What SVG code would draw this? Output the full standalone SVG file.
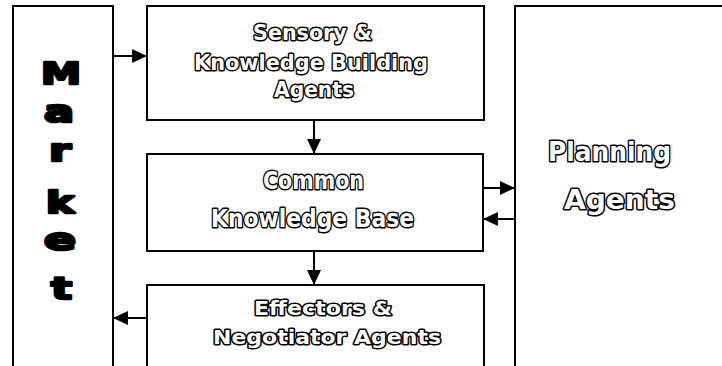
<svg xmlns="http://www.w3.org/2000/svg" width="722" height="366" viewBox="0 0 722 366">
<style>
.box{fill:#fff;stroke:#000;stroke-width:2}
.ol{font-family:"DejaVu Sans",sans-serif;font-weight:bold;fill:#fff;stroke:#000;stroke-width:3;stroke-linejoin:round;paint-order:stroke}
.mk{font-family:"DejaVu Sans",sans-serif;font-weight:900;fill:#000;stroke:#000;stroke-width:2.6;stroke-linejoin:round;font-size:31px}
.cn{stroke:#000;stroke-width:2;fill:none}
</style>
<defs>
<marker id="ah" markerUnits="userSpaceOnUse" markerWidth="16" markerHeight="14" viewBox="0 0 16 14" refX="15" refY="7" orient="auto">
<path d="M0,0 L15,7 L0,14 Z" fill="#000"/>
</marker>
</defs>
<rect width="722" height="366" fill="#fff"/>
<g id="market">
<rect class="box" x="13" y="6" width="100" height="370"/>
<text class="mk" x="41" y="84" textLength="40" lengthAdjust="spacingAndGlyphs">M</text>
<text class="mk" x="44" y="122" textLength="30" lengthAdjust="spacingAndGlyphs">a</text>
<text class="mk" x="49" y="161" textLength="22" lengthAdjust="spacingAndGlyphs">r</text>
<text class="mk" x="46" y="213" textLength="28" lengthAdjust="spacingAndGlyphs">k</text>
<text class="mk" x="44" y="250" textLength="32" lengthAdjust="spacingAndGlyphs">e</text>
<text class="mk" x="51" y="299" textLength="21" lengthAdjust="spacingAndGlyphs">t</text>
</g>
<g id="sensory">
<rect class="box" x="147" y="6" width="337" height="114"/>
<text class="ol" font-size="22" x="253" y="40" textLength="119" lengthAdjust="spacingAndGlyphs">Sensory &amp;</text>
<text class="ol" font-size="22" x="194" y="70" textLength="234" lengthAdjust="spacingAndGlyphs">Knowledge Building</text>
<text class="ol" font-size="22" x="274" y="97" textLength="80" lengthAdjust="spacingAndGlyphs">Agents</text>
</g>
<g id="common">
<rect class="box" x="147" y="154" width="336" height="97"/>
<text class="ol" font-size="25" x="263" y="189" textLength="101" lengthAdjust="spacingAndGlyphs">Common</text>
<text class="ol" font-size="25" x="211" y="227" textLength="203" lengthAdjust="spacingAndGlyphs">Knowledge Base</text>
</g>
<g id="effectors">
<rect class="box" x="147" y="285" width="337" height="100"/>
<text class="ol" font-size="20" x="254" y="315" textLength="138" lengthAdjust="spacingAndGlyphs">Effectors &amp;</text>
<text class="ol" font-size="20" x="213" y="344" textLength="228" lengthAdjust="spacingAndGlyphs">Negotiator Agents</text>
</g>
<g id="planning">
<rect class="box" x="515" y="6" width="230" height="380"/>
<text class="ol" font-size="27" x="548" y="161" textLength="123" lengthAdjust="spacingAndGlyphs">Planning</text>
<text class="ol" font-size="27" x="564" y="209" textLength="111" lengthAdjust="spacingAndGlyphs">Agents</text>
</g>
<g id="connectors">
<line class="cn" x1="113" y1="56" x2="147" y2="56" marker-end="url(#ah)"/>
<line class="cn" x1="314" y1="120" x2="314" y2="154" marker-end="url(#ah)"/>
<line class="cn" x1="483" y1="188" x2="515" y2="188" marker-end="url(#ah)"/>
<line class="cn" x1="515" y1="219" x2="483" y2="219" marker-end="url(#ah)"/>
<line class="cn" x1="314" y1="251" x2="314" y2="285" marker-end="url(#ah)"/>
<line class="cn" x1="147" y1="318" x2="113" y2="318" marker-end="url(#ah)"/>
</g>
</svg>
